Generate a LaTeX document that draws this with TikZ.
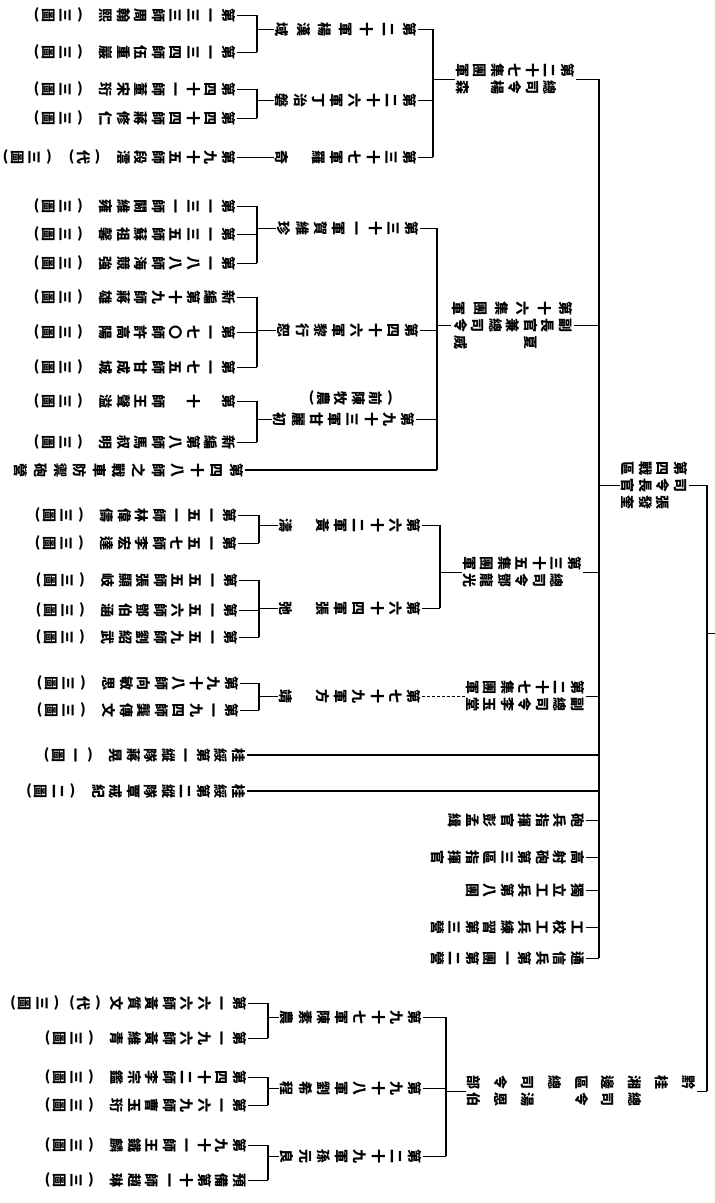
\documentclass[tikz,border=0pt]{standalone}
\usepackage{fontspec}
\setmainfont{Noto Sans CJK TC}
\usepackage{graphicx}
\usetikzlibrary{calc}

% vertical text column, set upright and turned with the node
\makeatletter
\newdimen\vcpitch \vcpitch=17.5pt
\newdimen\vcgap \vcgap=14pt
\def\vop{\rotatebox[origin=c]{-90}{(}}
\def\vcp{\rotatebox[origin=c]{-90}{)}}
\def\vsp{\vsp}
\def\vsq{\vsq}
\def\vc@end{\vc@end}
\def\vc@par#1{\vbox to 5pt{\vss\hbox to 1em{\hss#1\hss}\vss}}
\def\vc@item#1{%
  \ifx#1\vsp\kern\vcgap
  \else\ifx#1\vsq\kern7pt
  \else
    \vc@sep
    \ifx#1\vop\vc@par\vop
    \else\ifx#1\vcp\vc@par\vcp
    \else\hbox to 1em{\hss\vrule height .88em depth .12em width 0pt\relax#1\hss}%
    \fi\fi
    \let\vc@sep\vc@gap
  \fi\fi}
\def\vc@loop#1{\ifx#1\vc@end\else\vc@item{#1}\expandafter\vc@loop\fi}
\newcommand\vc[2][]{\vtop\ifx\relax#1\relax\else to #1\fi{\offinterlineskip
  \ifx\relax#1\relax\edef\vc@gap{\kern\the\dimexpr\vcpitch-1em\relax}\else\def\vc@gap{\vfill}\fi
  \let\vc@sep\relax\vc@loop#2\vc@end}}
\makeatother

\newcommand\fork[5]{% parent, bus, first, last, children
  \draw[bus] (#3.north -| #2) -- (#4.north -| #2);
  \foreach \n in {#5} \draw[tie] (\n.north) -- (\n.north -| #2);
  \draw[tie] (#1.south) -- (#1.south -| #2);}

\begin{document}
\begin{tikzpicture}[x=1pt,y=-1pt,
  unit/.style={rotate=-90,anchor=north,inner sep=1pt,font=\fontsize{14pt}{17pt}\selectfont\bfseries},
  bus/.style={line width=2pt},
  tie/.style={line width=.8pt}]
\path[fill=white,use as bounding box] (0,0) rectangle (715,1203);

% bus lines
\coordinate (bR) at (707,0);
\coordinate (bM) at (599,0);
\coordinate (m27) at (433,0);
\coordinate (m16) at (437,0);
\coordinate (m35) at (440,0);
\coordinate (mT) at (446,0);
\coordinate (kA) at (257,0);
\coordinate (kB) at (259,0);
\coordinate (kC) at (268,0);
\coordinate (up) at (715,633);

% top level
\node[unit] (zq) at (689,485) {\vc{第四戰區}\hspace{3pt}\vc{司令長官}\hspace{3pt}\vc{　張發奎}};
\node[unit] (tg) at (697,1091) {\vc[227pt]{黔桂湘邊區總司令部}\hspace{3pt}\vc[227pt]{　　總司令　湯恩伯}};

% army groups
\node[unit] (j27) at (576,79) {\vc{第二十七集團軍}\hspace{3pt}\vc{　總司令楊　森}};
\node[unit] (j16) at (574,325) {\vc[119pt]{第十六集團軍}\hspace{3pt}\vc{副長官兼總司令}\hspace{3pt}\vc{　　夏　　　威}};
\node[unit] (j35) at (583,572) {\vc{第三十五集團軍}\hspace{3pt}\vc{　總司令鄧龍光}};
\node[unit] (f27) at (586,696) {\vc{第二十七集團軍}\hspace{3pt}\vc{副總司令李玉堂}};

% directly under the war area
\node[unit] (gs1) at (247,755) {\vc{桂綏第一縱隊蔣晃\vsp\vop 一圖\vcp}};
\node[unit] (gs2) at (247,791) {\vc{桂綏第二縱隊覃戒紀\vsp\vop 二圖\vcp}};
\node[unit] (s1) at (586,820) {\vc{砲兵指揮官彭孟緝}};
\node[unit] (s2) at (586,857) {\vc{高射砲第三區指揮官}};
\node[unit] (s3) at (586,890) {\vc{獨立工兵第八團}};
\node[unit] (s4) at (586,927) {\vc{工校工兵練習第三營}};
\node[unit] (s5) at (586,958) {\vc{通信兵第一團第二營}};

% armies
\node[unit] (a20) at (418,29) {\vc[140pt]{第二十軍楊漢域}};
\node[unit] (a26) at (418,100) {\vc[140pt]{第二十六軍丁治磐}};
\node[unit] (a37) at (418,157) {\vc[140pt]{第三十七軍羅　奇}};
\node[unit] (a31) at (420,228) {\vc[140pt]{第三十一軍賀維珍}};
\node[unit] (a46) at (420,330) {\vc[140pt]{第四十六軍黎行恕}};
\node[unit] (a93n) at (393,398) {\vc{\vop 前陳牧農\vcp}};
\node[unit] (a93) at (416,419) {\vc[140pt]{第九十三軍甘麗初}};
\node[unit] (a62) at (422,525) {\vc[140pt]{第六十二軍黃　濤}};
\node[unit] (a64) at (422,608) {\vc[140pt]{第六十四軍張　弛}};
\node[unit] (a79) at (422,696) {\vc[140pt]{第七十九軍方　靖}};
\node[unit] (a97) at (423,1017) {\vc[140pt]{第九十七軍陳素農}};
\node[unit] (a98) at (423,1088) {\vc[140pt]{第九十八軍劉希程}};
\node[unit] (a29) at (423,1156) {\vc[140pt]{第二十九軍孫元良}};

% divisions
\node[unit] (d133) at (237,15) {\vc{第一三三師周翰熙\vsp\vop 三圖\vcp}};
\node[unit] (d134) at (237,52) {\vc{第一三四師伍重巖\vsp\vop 三圖\vcp}};
\node[unit] (d41) at (237,89) {\vc{第四十一師董宋珩\vsp\vop 三圖\vcp}};
\node[unit] (d44) at (237,118) {\vc{第四十四師蔣修仁\vsp\vop 三圖\vcp}};
\node[unit] (d95) at (237,157) {\vc{第九十五師段澐\vsp\vop 代\vcp\vsp\vop 三圖\vcp}};
\node[unit] (d131) at (237,206) {\vc{第一三一師闞維雍\vsp\vop 三圖\vcp}};
\node[unit] (d135) at (237,234) {\vc{第一三五師蘇祖馨\vsp\vop 三圖\vcp}};
\node[unit] (d188) at (237,263) {\vc{第一八八師海競強\vsp\vop 三圖\vcp}};
\node[unit] (dx19) at (237,297) {\vc{新編第十九師蔣雄\vsp\vop 三圖\vcp}};
\node[unit] (d170) at (237,332) {\vc{第一七〇師許高陽\vsp\vop 三圖\vcp}};
\node[unit] (d175) at (237,367) {\vc{第一七五師甘成城\vsp\vop 三圖\vcp}};
\node[unit] (d10) at (237,401) {\vc{第　十　師王聲溢\vsp\vop 三圖\vcp}};
\node[unit] (dx8) at (237,442) {\vc{新編第八師馬叔明\vsp\vop 三圖\vcp}};
\node[unit] (d48) at (245,470) {\vc[228pt]{第四十八師之戰車防禦砲營}};
\node[unit] (d151) at (238,515) {\vc{第一五一師林偉儔\vsp\vop 三圖\vcp}};
\node[unit] (d157) at (238,543) {\vc{第一五七師李宏達\vsp\vop 三圖\vcp}};
\node[unit] (d155) at (239,580) {\vc{第一五五師張顯岐\vsp\vop 三圖\vcp}};
\node[unit] (d156) at (239,610) {\vc{第一五六師鄧伯涵\vsp\vop 三圖\vcp}};
\node[unit] (d159) at (239,637) {\vc{第一五九師劉紹武\vsp\vop 三圖\vcp}};
\node[unit] (d98) at (240,683) {\vc{第九十八師向敏思\vsp\vop 三圖\vcp}};
\node[unit] (d194) at (240,710) {\vc{第一九四師龔傳文\vsp\vop 三圖\vcp}};
\node[unit] (d166) at (248,1003) {\vc{第一六六師黃質文\vsq\vop 代\vcp\vsq\vop 三圖\vcp}};
\node[unit] (d196) at (248,1038) {\vc{第一九六師黃維青\vsp\vop 三圖\vcp}};
\node[unit] (d42) at (248,1077) {\vc{第四十二師李宗鑑\vsp\vop 三圖\vcp}};
\node[unit] (d169) at (248,1105) {\vc{第一六九師曹玉珩\vsp\vop 三圖\vcp}};
\node[unit] (d91) at (248,1145) {\vc{第九十一師王鐵麟\vsp\vop 三圖\vcp}};
\node[unit] (dy11) at (248,1180) {\vc{預備第十一師趙琳\vsp\vop 三圖\vcp}};

% war area and its two heads
\draw[bus] (zq.north -| bR) -- (tg.north -| bR);
\draw[tie] (zq.north) -- (zq.north -| bR) (tg.north) -- (tg.north -| bR) (up -| bR) -- (up);

% main bus
\draw[bus] (j27.north -| bM) -- (s5.north -| bM);
\foreach \n in {j27,j16,j35,f27,s1,s2,s3,s4,s5} \draw[tie] (\n.north) -- (\n.north -| bM);
\draw[tie] (zq.south) -- (zq.south -| bM);
\draw[bus] (gs1.north) -- (gs1.north -| bM) (gs2.north) -- (gs2.north -| bM);

% army groups to armies
\fork{j27}{m27}{a20}{a37}{a20,a26,a37}
\fork{j16}{m16}{a31}{d48}{a31,a46,a93}
\draw[bus] (d48.north) -- (d48.north -| m16);
\fork{j35}{m35}{a62}{a64}{a62,a64}
\draw[tie,densely dashed] (a79.north) -- (f27.south);
\fork{tg}{mT}{a97}{a29}{a97,a98,a29}

% armies to divisions
\fork{a20}{kA}{d133}{d134}{d133,d134}
\fork{a26}{kA}{d41}{d44}{d41,d44}
\draw[tie] (a37.south) -- (d95.north);
\fork{a31}{kA}{d131}{d188}{d131,d135,d188}
\fork{a46}{kA}{dx19}{d175}{dx19,d170,d175}
\fork{a93}{kA}{d10}{dx8}{d10,dx8}
\fork{a62}{kB}{d151}{d157}{d151,d157}
\fork{a64}{kB}{d155}{d159}{d155,d156,d159}
\fork{a79}{kB}{d98}{d194}{d98,d194}
\fork{a97}{kC}{d166}{d196}{d166,d196}
\fork{a98}{kC}{d42}{d169}{d42,d169}
\fork{a29}{kC}{d91}{dy11}{d91,dy11}
\end{tikzpicture}
\end{document}
